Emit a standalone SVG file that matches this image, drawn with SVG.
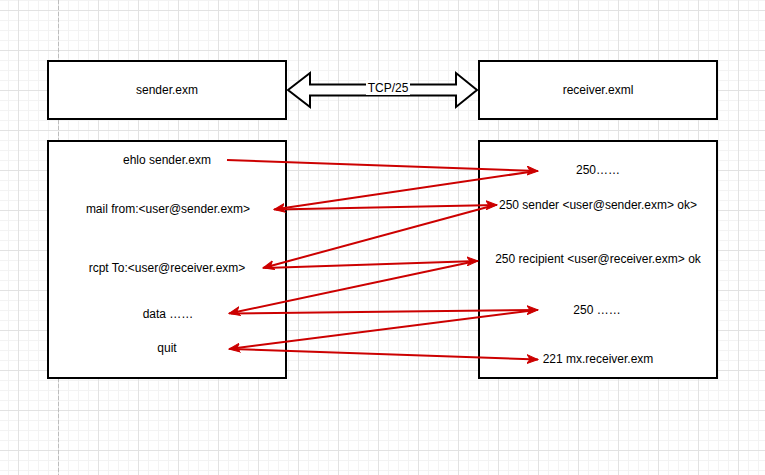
<svg xmlns="http://www.w3.org/2000/svg" width="765" height="475" viewBox="0 0 765 475">
  <style>
    .box { fill: #ffffff; stroke: #000000; stroke-width: 2; }
    .lbl { font-family: "Liberation Sans", Arial, Helvetica, sans-serif; font-size: 12px; fill: #000000; text-anchor: middle; }
    .edge { fill: none; stroke: #CC0000; stroke-width: 2; marker-end: url(#arrow); }
  </style>
  <defs>
    <pattern id="minor" x="8" y="0" width="10" height="10" patternUnits="userSpaceOnUse">
      <path d="M0.5 0 V10 M0 0.5 H10" stroke="#f3f3f3" stroke-width="1" fill="none"/>
    </pattern>
    <pattern id="major" x="18" y="10" width="40" height="40" patternUnits="userSpaceOnUse">
      <path d="M0.5 0 V40 M0 0.5 H40" stroke="#e2e2e2" stroke-width="1" fill="none"/>
    </pattern>
    <marker id="arrow" viewBox="0 0 12 10" refX="11" refY="5" markerWidth="12" markerHeight="10" markerUnits="userSpaceOnUse" orient="auto">
      <path d="M0,0.5 L11,5 L0,9.5 L3,5 Z" fill="#CC0000" stroke="#CC0000" stroke-width="1" stroke-linejoin="miter"/>
    </marker>
  </defs>

  <rect x="0" y="0" width="765" height="475" fill="#ffffff"/>
  <rect x="0" y="0" width="765" height="475" fill="url(#minor)"/>
  <rect x="0" y="0" width="765" height="475" fill="url(#major)"/>
  <line x1="58.5" y1="0" x2="58.5" y2="475" stroke="#bdbdbd" stroke-width="1" stroke-dasharray="4,2"/>

  <g id="sender">
    <rect class="box" x="48" y="61" width="238" height="58"/>
    <text class="lbl" x="167" y="94">sender.exm</text>
  </g>
  <g id="receiver">
    <rect class="box" x="479" y="61" width="238" height="58"/>
    <text class="lbl" x="598" y="94">receiver.exml</text>
  </g>
  <g id="tcp">
    <polygon points="288,90 310,73 310,84.5 456,84.5 456,73 477,90 456,107 456,95.5 310,95.5 310,107" fill="#ffffff" stroke="#000000" stroke-width="2" stroke-linejoin="miter"/>
    <rect x="366" y="80" width="44" height="15" fill="#ffffff"/>
    <text class="lbl" x="388" y="92">TCP/25</text>
  </g>

  <g id="client">
    <rect class="box" x="48" y="141" width="238" height="237"/>
    <text class="lbl" x="167" y="164">ehlo sender.exm</text>
    <text class="lbl" x="168" y="213">mail from:&lt;user@sender.exm&gt;</text>
    <text class="lbl" x="167" y="272">rcpt To:&lt;user@receiver.exm&gt;</text>
    <text class="lbl" x="168" y="318">data ……</text>
    <text class="lbl" x="167" y="352">quit</text>
  </g>
  <g id="server">
    <rect class="box" x="479" y="141" width="238" height="237"/>
    <text class="lbl" x="598" y="174">250……</text>
    <text class="lbl" x="598" y="209">250 sender &lt;user@sender.exm&gt; ok&gt;</text>
    <text class="lbl" x="598" y="263">250 recipient &lt;user@receiver.exm&gt; ok</text>
    <text class="lbl" x="597" y="314">250 ……</text>
    <text class="lbl" x="598" y="363">221 mx.receiver.exm</text>
  </g>

  <g id="connectors">
    <path class="edge" d="M227,160 L538,171"/>
    <path class="edge" d="M536,171 L274,209.5"/>
    <path class="edge" d="M276,209.5 L497,205"/>
    <path class="edge" d="M495,205 L263,268"/>
    <path class="edge" d="M265,268 L478,261"/>
    <path class="edge" d="M476,261 L229,313.5"/>
    <path class="edge" d="M231,313.5 L538,310"/>
    <path class="edge" d="M536,310 L229,349"/>
    <path class="edge" d="M231,349 L538,359.5"/>
  </g>
</svg>
